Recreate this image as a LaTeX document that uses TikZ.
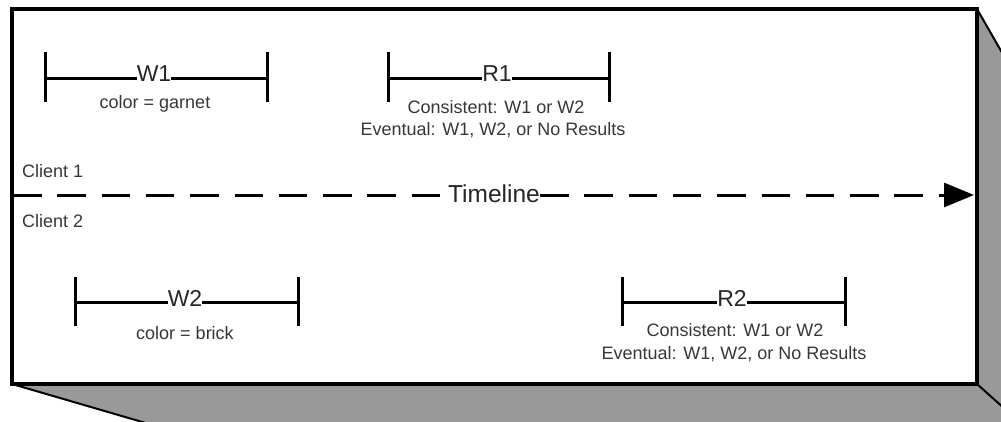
\documentclass[tikz,border=0pt]{standalone}
\usepackage{fontspec}
\setmainfont{Liberation Sans}
\usetikzlibrary{arrows.meta}
\definecolor{facegray}{RGB}{153,153,153}
\definecolor{txtgray}{RGB}{55,55,55}
\begin{document}
\begin{tikzpicture}[x=1pt,y=-1pt,
  face/.style={fill=facegray,draw=black,line width=2pt,line join=bevel},
  front/.style={fill=white,draw=black,line width=3.5pt},
  bar/.style={draw=black,line width=3pt},
  big/.style={font=\fontsize{23}{26}\selectfont,text=black!85,inner sep=0pt,anchor=base},
  small/.style={font=\fontsize{18}{21}\selectfont,text=txtgray,inner sep=0pt,anchor=base},
  timeline/.style={line width=3pt,dash pattern=on 28.5pt off 15.8pt},
]
\useasboundingbox (0,0) rectangle (1001,421);
\clip (0,0) rectangle (1001,421);

% box geometry
\coordinate (ftl) at (12,9);
\coordinate (ftr) at (977,9);
\coordinate (fbr) at (977,384);
\coordinate (fbl) at (12,384);
\coordinate (btr) at (1110,241);
\coordinate (bbr) at (1110,503);
\coordinate (bbl) at (420,503);
\draw[face] (ftr) -- (btr) -- (bbr) -- (bbl) -- (fbl) -- (fbr) -- cycle;
\draw[face] (fbr) -- (bbr);
\draw[front] (ftl) rectangle (fbr);

% W1
\node[big] (w1) at (154,81) {W1};
\node[small] (w1t) at (155,108) {color = garnet};
\coordinate (w1a) at (45,78);
\coordinate (w1b) at (267,78);
\draw[bar] (w1a) -- (w1.west |- w1a) (w1.east |- w1a) -- (w1b);
\draw[bar] (w1a) ++(0,-26) -- ++(0,50);
\draw[bar] (w1b) ++(0,-26) -- ++(0,50);

% R1
\node[big] (r1) at (497,81) {R1};
\node[small] (r1c) at (496,113) {Consistent: W1 or W2};
\node[small] (r1e) at (493,135) {Eventual: W1, W2, or No Results};
\coordinate (r1a) at (388,78);
\coordinate (r1b) at (609,78);
\draw[bar] (r1a) -- (r1.west |- r1a) (r1.east |- r1a) -- (r1b);
\draw[bar] (r1a) ++(0,-26) -- ++(0,50);
\draw[bar] (r1b) ++(0,-26) -- ++(0,50);

% clients
\node[small,anchor=base west] (c1) at (22,177) {Client 1};
\node[small,anchor=base west] (c2) at (22,227) {Client 2};

% timeline
\node[big,font=\fontsize{24.5}{28}\selectfont] (tl) at (494,202) {Timeline};
\coordinate (tl0) at (13,195);
\coordinate (tl1) at (974,195);
\draw[timeline] (tl0) -- (tl.west |- tl0);
\draw[timeline,-{Triangle[length=30pt,width=24pt]}] (tl.east |- tl0) -- (tl1);

% W2
\node[big] (w2) at (185,306) {W2};
\node[small] (w2t) at (185,339) {color = brick};
\coordinate (w2a) at (75,302);
\coordinate (w2b) at (298,302);
\draw[bar] (w2a) -- (w2.west |- w2a) (w2.east |- w2a) -- (w2b);
\draw[bar] (w2a) ++(0,-25) -- ++(0,49);
\draw[bar] (w2b) ++(0,-25) -- ++(0,49);

% R2
\node[big] (r2) at (732,306) {R2};
\node[small] (r2c) at (735,336) {Consistent: W1 or W2};
\node[small] (r2e) at (734,359) {Eventual: W1, W2, or No Results};
\coordinate (r2a) at (622,302);
\coordinate (r2b) at (845,302);
\draw[bar] (r2a) -- (r2.west |- r2a) (r2.east |- r2a) -- (r2b);
\draw[bar] (r2a) ++(0,-25) -- ++(0,49);
\draw[bar] (r2b) ++(0,-25) -- ++(0,49);
\end{tikzpicture}
\end{document}
